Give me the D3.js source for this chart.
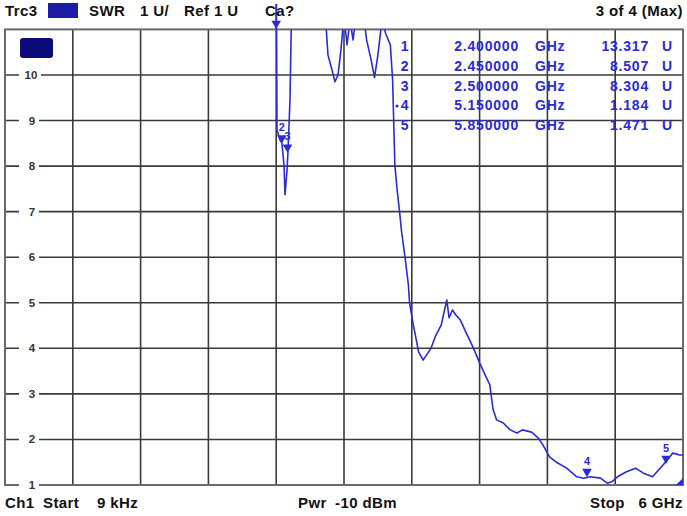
<!DOCTYPE html>
<html>
<head>
<meta charset="utf-8">
<script src="https://cdn.jsdelivr.net/npm/d3@7"></script>
<style>
  body { margin: 0; background: #fff; }
  text { font-family: "Liberation Sans", Arial, sans-serif; font-weight: bold; white-space: pre; }
  .lbl { font-size: 15px; letter-spacing: 0.4px; fill: #111; }
  .tbl { font-size: 14px; letter-spacing: 0.8px; }
</style>
</head>
<body>
<div id="chart"></div>
<script>
// set dimensions of the analyzer screen
var width = 687;
var height = 516;

// trace data: frequency in GHz, SWR in U (values above 11 run off the top)
var freqs = [0, 2.37, 2.40, 2.407, 2.434, 2.45, 2.469, 2.478, 2.496, 2.504, 2.522, 2.54, 2.57,
  2.805, 2.83, 2.858, 2.894, 2.92, 2.947, 2.973, 3.0, 3.027, 3.053, 3.08, 3.106, 3.14,
  3.2, 3.24, 3.27, 3.30, 3.336, 3.37, 3.41, 3.43, 3.45, 3.47, 3.49, 3.51, 3.54, 3.57,
  3.58, 3.61, 3.64, 3.66, 3.70, 3.73, 3.77, 3.81, 3.86, 3.89, 3.91, 3.93, 3.96, 3.99,
  4.03, 4.07, 4.12, 4.16, 4.20, 4.25, 4.29, 4.32, 4.35, 4.41, 4.47, 4.53, 4.58, 4.66,
  4.72, 4.76, 4.82, 4.88, 4.97, 5.06, 5.12, 5.18, 5.27, 5.33, 5.37, 5.42, 5.50, 5.58,
  5.65, 5.73, 5.81, 5.86, 5.91, 5.97, 6.0];
var swr = [15, 14, 13.3, 8.79, 8.57, 8.51, 8.03, 7.37, 7.92, 8.31, 9.45, 12, 13,
  13, 11.5, 10.44, 10.11, 9.85, 10.0, 10.55, 11.3, 10.66, 11.2, 10.77, 11.3, 12,
  10.77, 10.33, 9.94, 10.44, 11.2, 10.9, 10.66, 9.9, 8.03, 7.48, 7.04, 6.55, 6.0, 5.39,
  5.0, 4.56, 4.18, 3.92, 3.74, 3.85, 4.0, 4.27, 4.51, 4.84, 5.06, 4.67, 4.84, 4.73,
  4.62, 4.4, 4.14, 3.92, 3.68, 3.41, 3.2, 2.65, 2.43, 2.36, 2.21, 2.14, 2.21, 2.16,
  2.03, 1.88, 1.61, 1.5, 1.37, 1.18, 1.15, 1.18, 1.15, 1.04, 1.07, 1.18, 1.29, 1.37,
  1.26, 1.18, 1.4, 1.55, 1.7, 1.66, 1.66];

// markers
var markerNames = ['1', '2', '3', '4', '5'];
var markerFreqs = [2.4, 2.45, 2.5, 5.15, 5.85];
var markerValues = [13.317, 8.507, 8.304, 1.184, 1.471];
var markerFreqText = ['2.400000', '2.450000', '2.500000', '5.150000', '5.850000'];
var markerValueText = ['13.317', '8.507', '8.304', '1.184', '1.471'];

var yTicks = [1, 2, 3, 4, 5, 6, 7, 8, 9, 10];

var traceColor = '#2a2ad6';

var svg = d3.select('#chart')
  .append('svg')
  .attr('width', width)
  .attr('height', height);

var x = d3.scaleLinear().domain([0, 6]).range([5, 683]);
var y = d3.scaleLinear().domain([1, 11]).range([485, 29.4]);

// grid
svg.append('g')
  .selectAll('line.v')
  .data(d3.range(1, 10).map(function(i) { return i * 0.6; }))
  .enter()
  .append('line')
    .attr('x1', function(d) { return x(d); })
    .attr('x2', function(d) { return x(d); })
    .attr('y1', y(11))
    .attr('y2', y(1))
    .attr('stroke', '#3a3a3a')
    .attr('stroke-width', 1.6);

svg.append('g')
  .selectAll('line.h')
  .data(yTicks.slice(1))
  .enter()
  .append('line')
    .attr('x1', x(0))
    .attr('x2', x(6))
    .attr('y1', function(d) { return y(d); })
    .attr('y2', function(d) { return y(d); })
    .attr('stroke', '#3a3a3a')
    .attr('stroke-width', 1.6);

// frame
svg.append('rect')
  .attr('x', x(0))
  .attr('y', y(11))
  .attr('width', x(6) - x(0))
  .attr('height', y(1) - y(11))
  .attr('fill', 'none')
  .attr('stroke', '#6a6a6a')
  .attr('stroke-width', 2);

// y labels (break the grid line)
var ylab = svg.append('g').selectAll('g')
  .data(yTicks)
  .enter()
  .append('g');

ylab.append('rect')
  .attr('x', 19)
  .attr('y', function(d) { return y(d) - 6; })
  .attr('width', d => d === 10 ? 22 : 20)
  .attr('height', 12)
  .attr('fill', '#fff');

ylab.append('text')
  .attr('x', d => d === 10 ? 31 : 32)
  .attr('y', function(d) { return y(d) + 4; })
  .attr('text-anchor', 'middle')
  .attr('font-size', '11.5px')
  .attr('fill', '#333')
  .text(function(d) { return d; });

// navy box in the corner
svg.append('rect')
  .attr('x', 20).attr('y', 38)
  .attr('width', 33).attr('height', 20)
  .attr('rx', 3)
  .attr('fill', '#0a0a7a');

// trace
svg.append('clipPath').attr('id', 'clip')
  .append('rect')
  .attr('x', x(0)).attr('y', y(11))
  .attr('width', x(6) - x(0)).attr('height', y(1) - y(11));

var line = d3.line()
  .x(function(d, i) { return x(freqs[i]); })
  .y(function(d) { return y(d); });

svg.append('path')
  .datum(swr)
  .attr('clip-path', 'url(#clip)')
  .attr('d', line)
  .attr('fill', 'none')
  .attr('stroke', traceColor)
  .attr('stroke-width', 1.6)
  .attr('stroke-linejoin', 'round');

// marker triangles
var tri = d3.symbol().type(d3.symbolTriangle).size(40);
markerFreqs.forEach(function(f, i) {
  var v = Math.min(markerValues[i], 11);
  var mx = x(f);
  var my = y(v) - 5;
  if (markerValues[i] > 11) {
    my = y(11) - 6;
    svg.append('line')
      .attr('x1', mx).attr('x2', mx)
      .attr('y1', 4).attr('y2', y(11))
      .attr('stroke', traceColor).attr('stroke-width', 2);
  }
  svg.append('path')
    .attr('d', tri)
    .attr('transform', 'translate(' + mx + ',' + my + ') rotate(180)')
    .attr('fill', traceColor);
  if (markerValues[i] < 11) {
    svg.append('text')
      .attr('x', mx)
      .attr('y', my - 7)
      .attr('text-anchor', 'middle')
      .attr('font-size', '11px')
      .attr('fill', traceColor)
      .text(markerNames[i]);
  }
});

// end-of-sweep mark
svg.append('path')
  .attr('d', 'M' + (x(6) - 7) + ',' + (y(1)) + 'L' + x(6) + ',' + (y(1) - 7) + 'L' + x(6) + ',' + y(1) + 'Z')
  .attr('fill', traceColor);

// marker table
var rows = svg.append('g').selectAll('g')
  .data(markerNames)
  .enter()
  .append('g')
    .attr('class', 'tbl')
    .attr('transform', function(d, i) { return 'translate(0,' + (51 + i * 19.8) + ')'; })
    .attr('fill', traceColor);

rows.append('text').attr('x', 405).attr('text-anchor', 'middle').text(function(d) { return d; });
rows.append('text').attr('x', 519).attr('text-anchor', 'end').text(function(d, i) { return markerFreqText[i]; });
rows.append('text').attr('x', 535).text('GHz');
rows.append('text').attr('x', 649).attr('text-anchor', 'end').text(function(d, i) { return markerValueText[i]; });
rows.append('text').attr('x', 662).text('U');

svg.append('circle').attr('cx', 397).attr('cy', 106).attr('r', 1.6).attr('fill', traceColor);

// header
function label(tx, ty, s, anchor) {
  svg.append('text').attr('class', 'lbl').attr('x', tx).attr('y', ty)
    .attr('text-anchor', anchor || 'start').text(s);
}
label(5, 16, 'Trc3');
svg.append('rect').attr('x', 48).attr('y', 3).attr('width', 30).attr('height', 15).attr('fill', '#1c1ca4');
label(89, 16, 'SWR');
label(140, 16, '1 U/');
label(184, 16, 'Ref 1 U');
label(265, 16, 'Ca?');
label(683, 16, '3 of 4 (Max)', 'end');

// footer
label(5, 508, 'Ch1');
label(43, 508, 'Start');
label(97, 508, '9 kHz');
label(298, 508, 'Pwr');
label(335, 508, '-10 dBm');
label(590, 508, 'Stop');
label(683, 508, '6 GHz', 'end');
</script>
</body>
</html>
